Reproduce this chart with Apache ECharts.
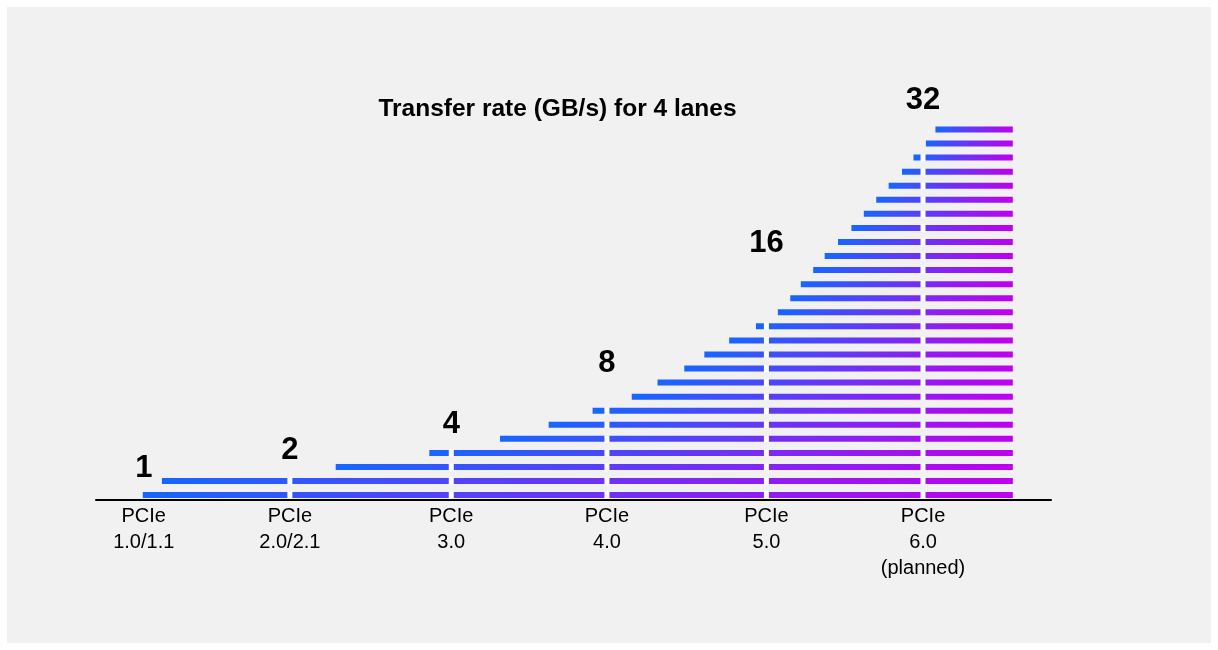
<!DOCTYPE html>
<html>
<head>
<meta charset="utf-8">
<script src="https://cdn.jsdelivr.net/npm/echarts@6/dist/echarts.min.js"></script>
<style>
  html, body { margin: 0; padding: 0; background: #ffffff; }
  #panel { position: absolute; left: 7px; top: 7px; width: 1204px; height: 636px; background: #f0f1f0; }
  #chart { position: absolute; left: 0; top: 0; width: 1218px; height: 650px; }
</style>
</head>
<body>
<div id="panel"></div>
<div id="chart"></div>
<script>
// ---- data ----
const titleText = 'Transfer rate (GB/s) for 4 lanes';
const genLabels = ['PCIe\n1.0/1.1', 'PCIe\n2.0/2.1', 'PCIe\n3.0', 'PCIe\n4.0', 'PCIe\n5.0', 'PCIe\n6.0\n(planned)'];
const genPos = [5.0, 20.3, 37.2, 53.5, 70.2, 86.6];
const rates = [1, 2, 4, 8, 16, 32];
const rateLevel = [1.9, 3.15, 5.03, 9.34, 17.91, 28.07];
const rowStart = [4.9, 6.9, 25.1, 34.9, 42.3, 47.4, 52.0, 56.1, 58.8, 61.6, 63.7, 66.3, 69.1,
                  71.4, 72.7, 73.8, 75.1, 76.3, 77.7, 79.1, 80.4, 81.7, 83.0, 84.4, 85.6, 86.9, 87.9];
const rowEnd = 96.0;

// ---- style ----
const barH = 6;
const gapW = 5;
const colStart = '#1766ff';
const colEnd = '#bf00ee';

const rowData = rowStart.map((s, i) => [s, rowEnd, i]);
const labelData = genPos.map((x, i) => [x, rateLevel[i], rates[i]]);

function renderRow(params, api) {
  const s = api.value(0), e = api.value(1), y = api.value(2);
  const p0 = api.coord([s, y]);
  const p1 = api.coord([e, y]);
  const children = [{
    type: 'rect',
    shape: { x: p0[0], y: p0[1] - barH / 2, width: p1[0] - p0[0], height: barH },
    style: {
      fill: new echarts.graphic.LinearGradient(0, 0, 1, 0, [
        { offset: 0, color: colStart },
        { offset: 1, color: colEnd }
      ])
    }
  }];
  genPos.slice(1).forEach(g => {
    const c = api.coord([g, y])[0];
    const x0 = Math.max(c - gapW / 2, p0[0]);
    const x1 = Math.min(c + gapW / 2, p1[0]);
    if (x1 > x0) {
      children.push({
        type: 'rect',
        shape: { x: x0, y: p0[1] - barH / 2 - 0.5, width: x1 - x0, height: barH + 1 },
        style: { fill: '#ffffff' }
      });
    }
  });
  return { type: 'group', children };
}

function renderLabel(params, api) {
  const p = api.coord([api.value(0), api.value(1)]);
  return {
    type: 'text',
    x: p[0],
    y: p[1],
    style: {
      text: String(api.value(2)),
      fontFamily: 'Liberation Sans',
      fontSize: 31,
      fontWeight: 'bold',
      fill: '#000000',
      align: 'center',
      verticalAlign: 'middle'
    }
  };
}

const chart = echarts.init(document.getElementById('chart'), null, { renderer: 'canvas' });
chart.setOption({
  backgroundColor: 'transparent',
  animation: false,
  title: {
    text: titleText,
    left: 552.5,
    textAlign: 'center',
    top: 92,
    textStyle: { fontFamily: 'Liberation Sans', fontSize: 24.5, fontWeight: 'bold', color: '#000000' }
  },
  grid: { left: 96, right: 167, top: 87.3, bottom: 150.7, containLabel: false },
  xAxis: {
    type: 'value',
    min: 0,
    max: 100,
    splitLine: { show: false },
    axisTick: { show: false },
    axisLine: { show: true, onZero: false, lineStyle: { color: '#000000', width: 2 } },
    axisLabel: {
      show: true,
      customValues: genPos,
      margin: 4,
      fontFamily: 'Liberation Sans',
      fontSize: 20,
      lineHeight: 26,
      color: '#000000',
      verticalAlign: 'top',
      formatter: function (v) {
        let best = 0;
        genPos.forEach((g, i) => { if (Math.abs(g - v) < Math.abs(genPos[best] - v)) best = i; });
        return genLabels[best];
      }
    }
  },
  yAxis: {
    type: 'value',
    min: -0.3,
    max: 29,
    show: false
  },
  series: [
    {
      type: 'custom',
      renderItem: renderRow,
      data: rowData,
      encode: { x: [0, 1], y: 2 },
      clip: false,
      z: 2
    },
    {
      type: 'custom',
      renderItem: renderLabel,
      data: labelData,
      encode: { x: 0, y: 1 },
      clip: false,
      z: 3
    }
  ]
});
</script>
</body>
</html>
